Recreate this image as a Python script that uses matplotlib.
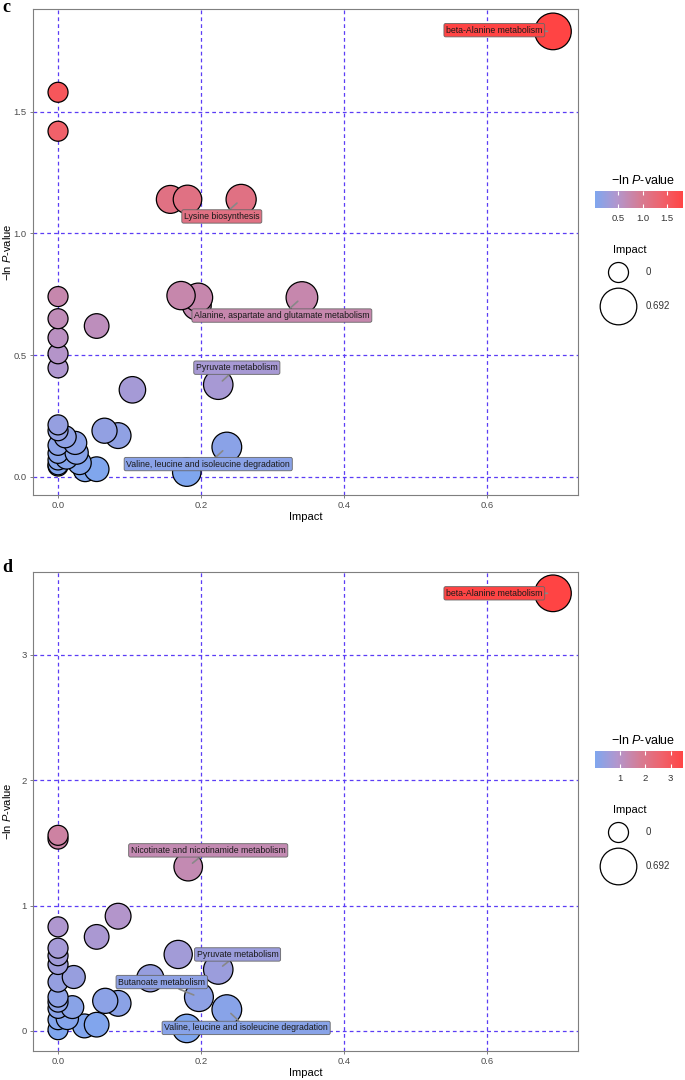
import matplotlib
matplotlib.use("Agg")
import matplotlib.pyplot as plt
import numpy as np
from matplotlib.colors import LinearSegmentedColormap, Normalize
from matplotlib.cm import ScalarMappable

plt.rcParams["font.family"] = ["Liberation Sans", "DejaVu Sans"]
plt.rcParams["mathtext.fontset"] = "custom"
plt.rcParams["mathtext.rm"] = "Liberation Sans"
plt.rcParams["mathtext.it"] = "Liberation Sans:italic"

W, H = 685, 1080

# ---- panel c data ----
c_impact = [0.692, 0.0, 0.0, 0.157, 0.181, 0.256, 0.172, 0.196, 0.194, 0.341,
            0.0, 0.0, 0.0, 0.0, 0.0, 0.054, 0.104, 0.224, 0.236, 0.180,
            0.065, 0.084, 0.0, 0.0, 0.010, 0.024, 0.0, 0.0, 0.012, 0.026,
            0.0, 0.0, 0.0, 0.030, 0.038, 0.054]
c_logp = [1.83, 1.58, 1.42, 1.14, 1.14, 1.14, 0.745, 0.737, 0.704, 0.737,
          0.741, 0.650, 0.572, 0.506, 0.448, 0.62, 0.358, 0.379, 0.123, 0.02,
          0.19, 0.17, 0.214, 0.19, 0.165, 0.14, 0.13, 0.097, 0.078, 0.10,
          0.07, 0.05, 0.045, 0.058, 0.03, 0.032]
c_label_names = ["beta-Alanine metabolism", "Lysine biosynthesis",
                 "Alanine, aspartate and glutamate metabolism",
                 "Pyruvate metabolism", "Valine, leucine and isoleucine degradation"]
c_label_points = [0, 5, 9, 17, 18]
c_label_pos = [(0.61, 1.835), (0.229, 1.07), (0.313, 0.663), (0.25, 0.449), (0.21, 0.053)]

# ---- panel d data ----
d_impact = [0.692, 0.0, 0.0, 0.182, 0.084, 0.054, 0.0, 0.0, 0.0, 0.0,
            0.0, 0.0, 0.0, 0.0, 0.0, 0.0, 0.022, 0.020, 0.013, 0.037,
            0.054, 0.066, 0.084, 0.168, 0.224, 0.129, 0.197, 0.236, 0.180]
d_logp = [3.49, 1.56, 1.53, 1.31, 0.915, 0.75, 0.83, 0.66, 0.60, 0.53,
          0.39, 0.27, 0.23, 0.18, 0.09, 0.01, 0.43, 0.19, 0.10, 0.04,
          0.05, 0.24, 0.22, 0.61, 0.49, 0.42, 0.27, 0.17, 0.02]
d_label_names = ["beta-Alanine metabolism", "Nicotinate and nicotinamide metabolism",
                 "Pyruvate metabolism", "Butanoate metabolism",
                 "Valine, leucine and isoleucine degradation"]
d_label_points = [0, 3, 24, 26, 27]
d_label_pos = [(0.61, 3.49), (0.21, 1.44), (0.251, 0.61), (0.145, 0.39), (0.263, 0.024)]

cmap = LinearSegmentedColormap.from_list("lnp", [
    (0.0, "#7fa6ee"), (0.25, "#b296cd"), (0.5, "#d47d96"),
    (0.75, "#ee646e"), (1.0, "#ff4444")])

GRID = "#5b3df5"
DPI = 100


def rect(x0, y0, x1, y1):
    return [x0 / W, 1 - y1 / H, (x1 - x0) / W, (y1 - y0) / H]


def size_of(impact):
    r = 10 + 10 * np.sqrt(np.asarray(impact, dtype=float))  # radius in px
    return (2 * r * 72 / DPI) ** 2


def draw_panel(fig, box, impact, logp, yticks, ylabels, ylim, names, idx, pos):
    ax = fig.add_axes(rect(*box))
    norm = Normalize(min(logp), max(logp))
    order = np.argsort(logp)
    x = np.asarray(impact)[order]
    y = np.asarray(logp)[order]
    ax.scatter(x, y, s=size_of(x), c=cmap(norm(y)), edgecolors="black",
               linewidths=0.9, zorder=3)
    for name, i, (lx, ly) in zip(names, idx, pos):
        col = cmap(norm(logp[i]))
        ax.annotate(name, xy=(impact[i], logp[i]), xytext=(lx, ly),
                    ha="center", va="center", fontsize=6.3, color="#1a1a1a",
                    zorder=6,
                    bbox=dict(boxstyle="round,pad=0.25,rounding_size=0.2",
                              fc=col, ec="#666666", lw=0.6),
                    arrowprops=dict(arrowstyle="-", color="#888888", lw=1.2,
                                    shrinkA=0, shrinkB=4))
    ax.set_xlim(-0.035, 0.727)
    ax.set_ylim(*ylim)
    ax.set_xticks([0, 0.2, 0.4, 0.6])
    ax.set_xticklabels(["0.0", "0.2", "0.4", "0.6"])
    ax.set_yticks(yticks)
    ax.set_yticklabels(ylabels)
    ax.grid(True, color=GRID, linestyle=(0, (3, 2.5)), linewidth=0.9)
    ax.set_axisbelow(True)
    for sp in ax.spines.values():
        sp.set_color("#7f7f7f")
        sp.set_linewidth(0.8)
    ax.tick_params(colors="#7f7f7f", labelcolor="#4d4d4d", labelsize=6.8,
                   length=2.5, width=0.7, pad=2)
    ax.set_xlabel("Impact", fontsize=8, labelpad=1)
    ax.set_ylabel("\u2212ln $\\it{P}$-value", fontsize=8)
    ax.yaxis.set_label_coords(-0.036, 0.5)
    return ax, norm


def draw_legend(fig, dy, norm, cticks):
    cax = fig.add_axes(rect(595, 191 + dy, 683, 208 + dy))
    cb = fig.colorbar(ScalarMappable(norm=norm, cmap=cmap), cax=cax,
                      orientation="horizontal")
    cb.outline.set_visible(False)
    cb.set_ticks(cticks)
    cax.tick_params(direction="in", color="white", length=3, width=0.8,
                    labelsize=6.8, labelcolor="#333333", top=True, pad=4)
    fig.text(643 / W, 1 - (181 + dy) / H, "\u2212ln $\\it{P}$-value",
             ha="center", va="center", fontsize=9)

    lax = fig.add_axes(rect(590, 238 + dy, 685, 330 + dy))
    lax.set_xlim(590, 685)
    lax.set_ylim(330 + dy, 238 + dy)
    lax.axis("off")
    lax.text(630, 250 + dy, "Impact", ha="center", va="center", fontsize=8)
    for v, yy in [(0, 272), (0.692, 306)]:
        lax.scatter([618], [yy + dy], s=size_of([v]), facecolors="white",
                    edgecolors="black", linewidths=0.9)
        lax.text(646, yy + dy, "0" if v == 0 else "0.692", ha="left",
                 va="center", fontsize=7, color="#333333")


fig = plt.figure(figsize=(W / DPI, H / DPI), dpi=DPI)

ax_c, norm_c = draw_panel(fig, (33, 9, 578, 495), c_impact, c_logp,
                          [0, 0.5, 1.0, 1.5], ["0.0", "0.5", "1.0", "1.5"],
                          (-0.074, 1.922), c_label_names, c_label_points, c_label_pos)
draw_legend(fig, 0, norm_c, [0.5, 1.0, 1.5])

ax_d, norm_d = draw_panel(fig, (33, 572, 578, 1051), d_impact, d_logp,
                          [0, 1, 2, 3], ["0", "1", "2", "3"],
                          (-0.16, 3.66), d_label_names, d_label_points, d_label_pos)
draw_legend(fig, 560, norm_d, [1, 2, 3])

fig.text(2 / W, 1 - 8 / H, "c", fontfamily="Liberation Serif", fontweight="bold",
         fontsize=13, ha="left", va="center")
fig.text(2 / W, 1 - 567 / H, "d", fontfamily="Liberation Serif", fontweight="bold",
         fontsize=13, ha="left", va="center")

fig.savefig("out.png", dpi=DPI)
